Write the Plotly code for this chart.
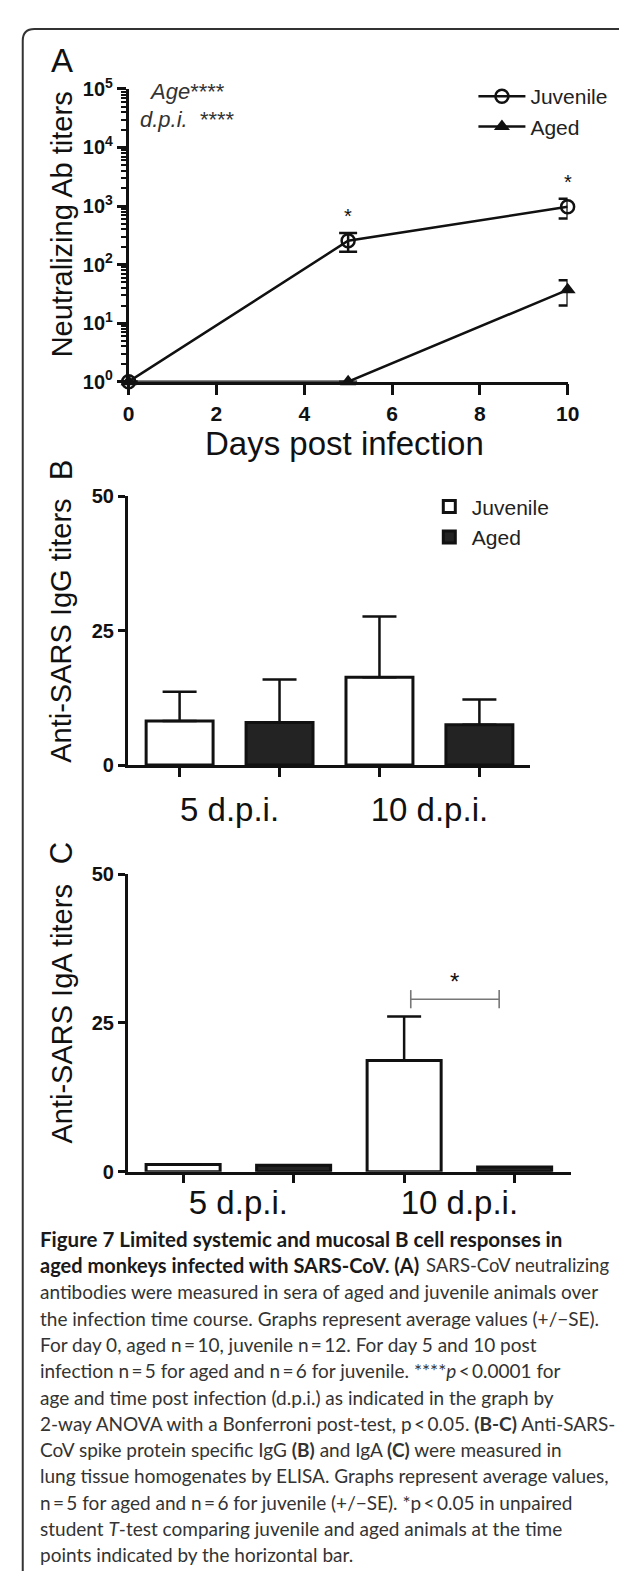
import math
import plotly.graph_objects as go

# ---------------- data ----------------
days = [0, 5, 10]
juvenile_titer = [1, 255, 970]
juvenile_err = [0, 90, 360]
aged_titer = [1, 1, 37]
aged_err = [0, 0, 17]

categories = ["5 d.p.i.", "10 d.p.i."]
igg_juvenile = [8.2, 16.3]
igg_juvenile_err = [5.4, 11.3]
igg_aged = [7.9, 7.5]
igg_aged_err = [8.0, 4.7]

iga_juvenile = [1.2, 18.7]
iga_juvenile_err = [0, 7.4]
iga_aged = [1.1, 0.8]
iga_aged_err = [0, 0]

sig_bracket_x = [0.78, 1.18]
sig_bracket_y = [29, 29]

log_ticks = [1, 10, 100, 1000, 10000, 100000]
log_ticktext = ["10<sup>0</sup>", "10<sup>1</sup>", "10<sup>2</sup>", "10<sup>3</sup>",
                "10<sup>4</sup>", "10<sup>5</sup>"]
lin_ticks = [0, 25, 50]

caption_title_1 = "Figure 7 Limited systemic and mucosal B cell responses in"
caption_title_2 = "aged monkeys infected with SARS-CoV. (A)"
caption_line_2_rest = "SARS-CoV neutralizing"
caption_body = [
    "antibodies were measured in sera of aged and juvenile animals over",
    "the infection time course. Graphs represent average values (+/\u2212SE).",
    "For day 0, aged n\u2009=\u200910, juvenile n\u2009=\u200912. For day 5 and 10 post",
    "infection n\u2009=\u20095 for aged and n\u2009=\u20096 for juvenile. ****<i>p</i>\u2009<\u20090.0001 for",
    "age and time post infection (d.p.i.) as indicated in the graph by",
    "2-way ANOVA with a Bonferroni post-test, p\u2009<\u20090.05. <b>(B-C)</b> Anti-SARS-",
    "CoV spike protein specific IgG <b>(B)</b> and IgA <b>(C)</b> were measured in",
    "lung tissue homogenates by ELISA. Graphs represent average values,",
    "n\u2009=\u20095 for aged and n\u2009=\u20096 for juvenile (+/\u2212SE). *p\u2009<\u20090.05 in unpaired",
    "student <i>T</i>-test comparing juvenile and aged animals at the time",
    "points indicated by the horizontal bar.",
]

# ---------------- layout helpers ----------------
W, H = 627, 1574
def px(x): return x / W
def py(y): return 1 - y / H

AX_FONT = "Liberation Sans, Arial, sans-serif"
CAP_FONT = "Lato, Open Sans, sans-serif"
BLACK = "#111111"

fig = go.Figure()

# ---------------- Panel A ----------------
fig.add_trace(go.Scatter(
    x=days, y=juvenile_titer, name="Juvenile", mode="lines+markers",
    line=dict(color=BLACK, width=2.5),
    marker=dict(symbol="circle-open", size=13, color=BLACK, line=dict(width=2.5)),
    error_y=dict(type="data", array=juvenile_err, color=BLACK, thickness=2.5, width=9),
    cliponaxis=False, xaxis="x", yaxis="y", legend="legend"))
fig.add_trace(go.Scatter(
    x=days, y=aged_titer, name="Aged", mode="lines+markers",
    line=dict(color=BLACK, width=2.5),
    marker=dict(symbol="triangle-up", size=14, color=BLACK),
    error_y=dict(type="data", array=aged_err, color=BLACK, thickness=2.5, width=9),
    cliponaxis=False, xaxis="x", yaxis="y", legend="legend"))

# ---------------- Panel B ----------------
fig.add_trace(go.Bar(
    x=[0, 1], y=igg_juvenile, name="Juvenile",
    marker=dict(color="white", line=dict(color=BLACK, width=3)),
    error_y=dict(type="data", array=igg_juvenile_err, arrayminus=[0, 0], symmetric=False,
                 color=BLACK, thickness=2.5, width=17),
    xaxis="x2", yaxis="y2", legend="legend2"))
fig.add_trace(go.Bar(
    x=[0, 1], y=igg_aged, name="Aged",
    marker=dict(color="#232323", line=dict(color=BLACK, width=3)),
    error_y=dict(type="data", array=igg_aged_err, arrayminus=[0, 0], symmetric=False,
                 color=BLACK, thickness=2.5, width=17),
    xaxis="x2", yaxis="y2", legend="legend2"))

# ---------------- Panel C ----------------
fig.add_trace(go.Bar(
    x=[0, 1], y=iga_juvenile, name="Juvenile", showlegend=False,
    marker=dict(color="white", line=dict(color=BLACK, width=3)),
    error_y=dict(type="data", array=iga_juvenile_err, arrayminus=[0, 0], symmetric=False,
                 color=BLACK, thickness=2.5, width=17),
    xaxis="x3", yaxis="y3"))
fig.add_trace(go.Bar(
    x=[0, 1], y=iga_aged, name="Aged", showlegend=False,
    marker=dict(color="#232323", line=dict(color=BLACK, width=3)),
    error_y=dict(type="data", array=iga_aged_err, arrayminus=[0, 0], symmetric=False,
                 color=BLACK, thickness=2.5, width=17, visible=False),
    xaxis="x3", yaxis="y3"))
fig.add_trace(go.Scatter(
    x=sig_bracket_x, y=sig_bracket_y, mode="lines+markers", showlegend=False,
    line=dict(color="#777777", width=1.6),
    marker=dict(symbol="line-ns-open", size=13, color="#777777", line=dict(width=1.6, color="#777777")),
    xaxis="x3", yaxis="y3", cliponaxis=False))

axis_common = dict(showline=True, linecolor=BLACK, linewidth=2.5, showgrid=False,
                   zeroline=False, ticks="outside", tickcolor=BLACK, tickwidth=2.5,
                   fixedrange=True)
tick_bold = dict(family=AX_FONT, size=20, color=BLACK, weight="bold")

fig.update_layout(
    width=W, height=H, margin=dict(l=0, r=0, t=0, b=0),
    paper_bgcolor="white", plot_bgcolor="rgba(0,0,0,0)",
    barmode="group", bargap=0.0, bargroupgap=0.33,
    xaxis=dict(axis_common, domain=[px(118), px(570)], range=[0, 10], anchor="y",
               tickvals=[0, 2, 4, 6, 8, 10], ticklen=11, tickfont=dict(tick_bold, size=21)),
    yaxis=dict(axis_common, domain=[py(365.5), py(68)], type="log", range=[0, 5], anchor="x",
               tickvals=log_ticks, ticktext=log_ticktext, ticklen=9, tickfont=tick_bold,
               minor=dict(ticks="outside", dtick="D1", ticklen=5, tickwidth=1.5, tickcolor=BLACK)),
    xaxis2=dict(axis_common, domain=[px(117), px(531)], range=[-0.51, 1.502], anchor="y2",
                tickvals=[0, 1], ticktext=categories, ticks="", ticklabelstandoff=14,
                tickfont=dict(family=AX_FONT, size=33, color=BLACK),
                minor=dict(tickmode="array", tickvals=[-0.25, 0.25, 0.75, 1.25], ticks="outside",
                           ticklen=9, tickwidth=2.5, tickcolor=BLACK)),
    yaxis2=dict(axis_common, domain=[py(755), py(481.7)], range=[0, 50], anchor="x2",
                tickvals=lin_ticks, ticklen=7, tickfont=tick_bold),
    xaxis3=dict(axis_common, domain=[px(117), px(573)], range=[-0.501, 1.503], anchor="y3",
                tickvals=[0, 1], ticktext=categories, ticks="", ticklabelstandoff=0,
                tickfont=dict(family=AX_FONT, size=33, color=BLACK),
                minor=dict(tickmode="array", tickvals=[-0.25, 0.25, 0.75, 1.25], ticks="outside",
                           ticklen=9, tickwidth=2.5, tickcolor=BLACK)),
    yaxis3=dict(axis_common, domain=[py(1168.3), py(866)], range=[0, 50], anchor="x3",
                tickvals=lin_ticks, ticklen=7, tickfont=tick_bold),
    legend=dict(x=px(473), y=py(91), xanchor="left", yanchor="middle", bgcolor="rgba(0,0,0,0)",
                font=dict(family=AX_FONT, size=21, color="#222"), itemwidth=47,
                tracegroupgap=0),
    legend2=dict(x=px(425), y=py(508), xanchor="left", yanchor="middle", bgcolor="rgba(0,0,0,0)",
                 font=dict(family=AX_FONT, size=21, color="#222"), itemwidth=35,
                 tracegroupgap=0),
    showlegend=True,
)

ann = []
def text(x, y, t, size, family=AX_FONT, **kw):
    color = kw.pop("color", BLACK)
    weight = kw.pop("weight", "normal")
    d = dict(x=px(x), y=py(y), xref="paper", yref="paper", text=t, showarrow=False,
             xanchor="center", yanchor="middle",
             font=dict(family=family, size=size, color=color, weight=weight))
    d.update(kw)
    ann.append(d)

# panel letters and axis titles
text(49, 39, "A", 33)
text(49, 206, "Neutralizing Ab titers", 29, textangle=-90)
text(340, 428, "Days post infection", 33)
text(49, 455, "B", 31, textangle=-90)
text(49, 619, "Anti-SARS IgG titers", 29, textangle=-90)
text(49, 845, "C", 31, textangle=-90)
text(49, 1008, "Anti-SARS IgA titers", 29, textangle=-90)

# stats text panel A
text(137, 71, "<i>Age</i>****", 22, xanchor="left", color="#333")
text(128, 99, "<i>d.p.i.</i>  ****", 22, xanchor="left", color="#333")

# significance asterisks (data coordinates)
for xv, v, e in zip(days[1:], juvenile_titer[1:], juvenile_err[1:]):
    ann.append(dict(x=xv, y=math.log10(v + e), xref="x", yref="y", text="*", showarrow=False,
                    xanchor="center", yanchor="bottom", yshift=4,
                    font=dict(family=AX_FONT, size=20, color=BLACK)))
ann.append(dict(x=sum(sig_bracket_x) / 2, y=sig_bracket_y[0], xref="x3", yref="y3", text="*",
                showarrow=False, xanchor="center", yanchor="bottom", yshift=2,
                font=dict(family=AX_FONT, size=24, color=BLACK)))

# caption
LINE0, LSTEP = 1236.7, 26.75
text(25, LINE0, caption_title_1, 20.5, family=CAP_FONT, weight="bold",
     xanchor="left", color="#1a1a1a")
text(25, LINE0 + LSTEP, caption_title_2, 20, family=CAP_FONT, weight="bold",
     xanchor="left", color="#1a1a1a")
text(422, LINE0 + LSTEP, caption_line_2_rest, 18.5, family=CAP_FONT,
     xanchor="left", color="#333333")
for i, line in enumerate(caption_body):
    text(25, LINE0 + LSTEP * (i + 2), line, 19, family=CAP_FONT,
         xanchor="left", color="#333333")

fig.update_layout(annotations=ann)

# frame (top + left edge with rounded corner)
fig.add_shape(type="path", xref="paper", yref="paper",
              path=f"M {px(9)} {py(1574)} L {px(9)} {py(19)} Q {px(9)} {py(7)} {px(21)} {py(7)} L {px(627)} {py(7)}",
              line=dict(color="#333333", width=2))

fig.write_html("out.html")
